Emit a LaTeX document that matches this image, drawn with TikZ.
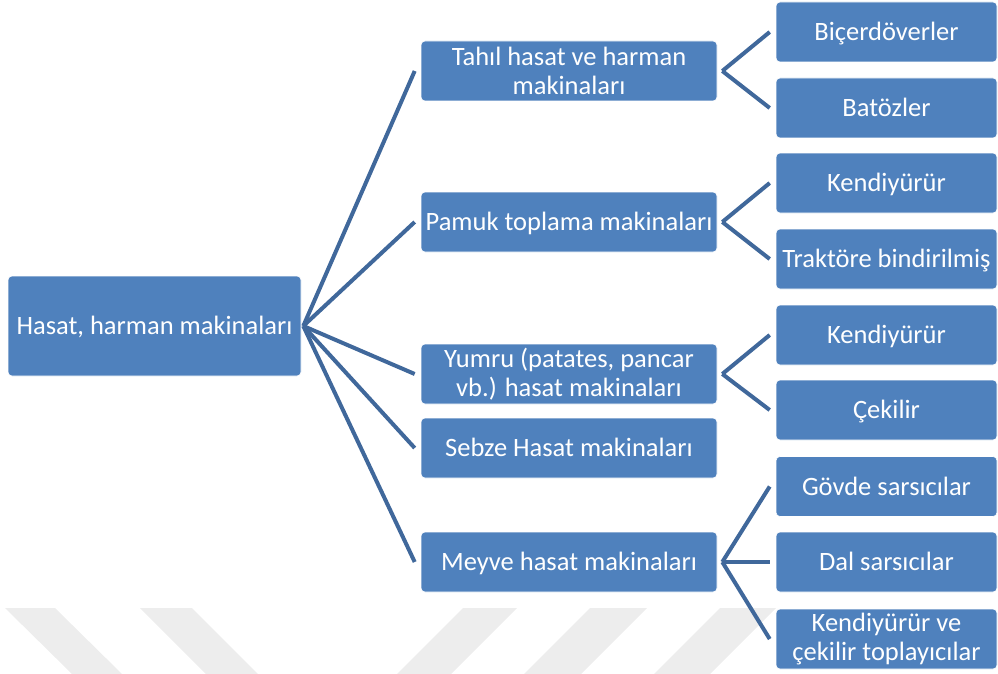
\documentclass[tikz,border=0pt]{standalone}
\usepackage{fontspec}
\setmainfont{Carlito}
\begin{document}
\definecolor{boxfill}{RGB}{79,129,189}
\definecolor{linkcol}{RGB}{64,104,155}
\definecolor{markgrey}{RGB}{237,237,237}
\begin{tikzpicture}[x=1pt,y=-1pt,
  box/.style={fill=boxfill,draw=white,line width=0.6pt,rounded corners=4pt,
    text=white,align=center,inner sep=0pt,
    font=\fontsize{26.5}{29}\selectfont},
  oneline/.style={text height=20pt,text depth=3pt},
  rootbox/.style={box,oneline,minimum width=293pt,minimum height=100pt},
  midbox/.style={box,minimum width=296pt,minimum height=60pt},
  leafbox/.style={box,minimum width=221pt,minimum height=60pt},
  link/.style={draw=linkcol,line width=4pt},
  stripe/.style={fill=markgrey,draw=none}]
\useasboundingbox (0,0) rectangle (998,674);

% faint diagonal background stripes
\fill[stripe] (5,608) -- (55,608) -- (122,674) -- (72,674) -- cycle;
\fill[stripe] (140,608) -- (192,608) -- (258,674) -- (206,674) -- cycle;
\fill[stripe] (463,608) -- (517,608) -- (451,674) -- (397,674) -- cycle;
\fill[stripe] (590,608) -- (647,608) -- (581,674) -- (524,674) -- cycle;
\fill[stripe] (720,608) -- (776,608) -- (710,674) -- (654,674) -- cycle;

% root
\node[rootbox] (root) at (154.5,326) {Hasat, harman makinaları};

% second level
\node[midbox] (tahil) at (569,71) {Tahıl hasat ve harman\\makinaları};
\node[midbox,oneline] (pamuk) at (569,222) {Pamuk toplama makinaları};
\node[midbox] (yumru) at (569,374) {Yumru (patates, pancar\\vb.) hasat makinaları};
\node[midbox,oneline] (sebze) at (569,448) {Sebze Hasat makinaları};
\node[midbox,oneline] (meyve) at (569,562) {Meyve hasat makinaları};

% third level
\node[leafbox,oneline] (bicer) at (886.5,32) {Biçerdöverler};
\node[leafbox,oneline] (batoz) at (886.5,108) {Batözler};
\node[leafbox,oneline] (kend1) at (886.5,183) {Kendiyürür};
\node[leafbox,oneline] (trakt) at (886.5,259) {Traktöre bindirilmiş};
\node[leafbox,oneline] (kend2) at (886.5,335) {Kendiyürür};
\node[leafbox,oneline] (cekil) at (886.5,410) {Çekilir};
\node[leafbox,oneline] (govde) at (886.5,486.5) {Gövde sarsıcılar};
\node[leafbox,oneline] (dal) at (886.5,562) {Dal sarsıcılar};
\node[leafbox] (kend3) at (886.5,639) {Kendiyürür ve\\çekilir toplayıcılar};

% connectors
\coordinate (hub) at ([xshift=2pt]root.east);
\foreach \n in {tahil,pamuk,yumru,sebze,meyve}
  \draw[link] (hub) -- ([xshift=-6pt]\n.west);

\foreach \p/\c in {tahil/bicer,tahil/batoz,pamuk/kend1,pamuk/trakt,
                   yumru/kend2,yumru/cekil,meyve/govde,meyve/dal,meyve/kend3}
  \draw[link] ([xshift=5pt]\p.east) -- ([xshift=-6pt]\c.west);
\end{tikzpicture}
\end{document}
